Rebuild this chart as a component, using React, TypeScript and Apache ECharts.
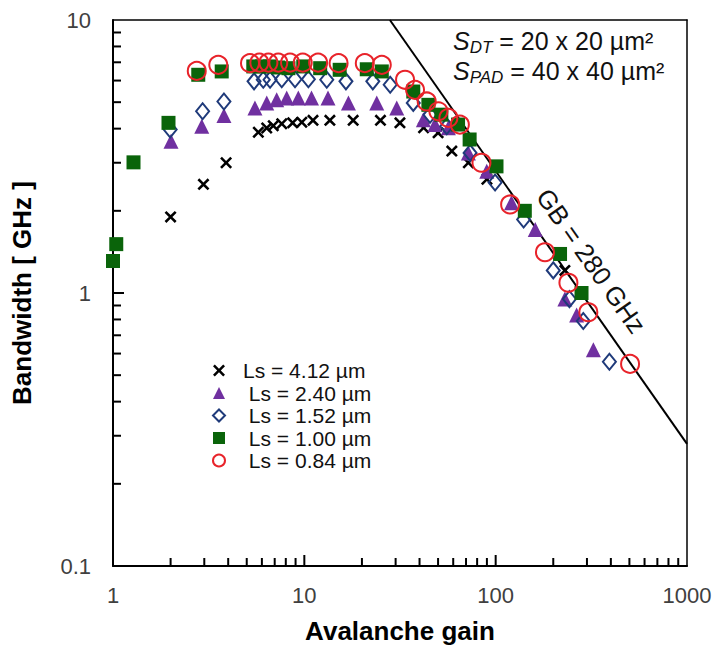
import React, { useEffect, useRef } from "react";
import * as echarts from "echarts";

const FONT = "'Liberation Sans', Arial, sans-serif";

// Ls = 4.12 µm
const gainA = [2.0, 2.97, 3.9, 5.75, 6.36, 6.88, 7.62, 8.69, 9.7, 11.1, 13.6, 18.0, 25.0, 31.6, 42, 50, 59, 72, 90, 230];
const bwA = [1.9, 2.5, 3.0, 3.88, 4.02, 4.1, 4.17, 4.2, 4.22, 4.29, 4.29, 4.29, 4.29, 4.2, 4.03, 3.86, 3.31, 3.0, 2.61, 1.21];
// Ls = 2.40 µm
const gainB = [2.01, 2.91, 3.8, 5.52, 6.36, 7.17, 8.09, 9.3, 10.9, 13.3, 17, 23.9, 30.4, 41.9, 48.2, 56.6, 72, 89.8, 121, 161, 230, 265, 324];
const bwB = [3.6, 4.08, 4.47, 4.76, 4.97, 5.1, 5.18, 5.18, 5.18, 5.18, 4.97, 4.97, 4.76, 4.31, 4.14, 4.03, 3.26, 2.79, 2.14, 1.71, 0.95, 0.83, 0.62];
// Ls = 1.52 µm
const gainC = [1.99, 2.94, 3.8, 5.46, 6.1, 6.62, 7.62, 8.94, 10.5, 13.1, 16.5, 22.8, 28.1, 37.1, 45.4, 55.5, 73.5, 99.3, 140, 200, 243, 287, 393];
const bwC = [3.97, 4.63, 5.03, 5.96, 6.04, 6.04, 6.07, 6.07, 6.07, 6.04, 5.96, 5.96, 5.79, 4.97, 4.5, 4.08, 3.26, 2.54, 1.86, 1.21, 0.95, 0.79, 0.56];
// Ls = 1.00 µm
const gainD = [1.0, 1.04, 1.28, 1.95, 2.79, 3.7, 5.41, 6.0, 6.6, 7.3, 8.26, 9.87, 12.1, 15.3, 21.2, 25.4, 37.1, 44.5, 52, 63.6, 73.1, 101, 142, 217, 281];
const bwD = [1.31, 1.51, 3.01, 4.2, 6.3, 6.48, 6.76, 6.76, 6.76, 6.7, 6.66, 6.76, 6.66, 6.57, 6.6, 6.48, 5.47, 4.89, 4.5, 4.14, 3.65, 2.91, 2.0, 1.39, 1.0];
// Ls = 0.84 µm
const gainE = [2.74, 3.55, 5.2, 5.82, 6.49, 7.31, 8.42, 9.81, 11.8, 15.1, 20.7, 25.4, 33.6, 37.9, 43.6, 50.2, 56.6, 65, 84.3, 119, 181, 240, 305, 504];
const bwE = [6.51, 6.85, 6.95, 6.98, 6.98, 6.98, 6.98, 6.98, 6.98, 6.95, 6.95, 6.85, 6.04, 5.55, 5.03, 4.63, 4.38, 4.14, 3.0, 2.11, 1.41, 1.09, 0.85, 0.55];

// GB = 280 GHz line end points
const gbLine = [
  [28, 10],
  [1000, 0.28],
];

const seriesNames = ["Ls = 4.12 µm", "\u00a0Ls = 2.40 µm", "\u00a0Ls = 1.52 µm", "\u00a0Ls = 1.00 µm", "\u00a0Ls = 0.84 µm"];

const xMajorTicks = [10, 100];
const yMajorTicks = [1];
const xMinorTicks = [2, 3, 4, 5, 6, 7, 8, 9, 20, 30, 40, 50, 60, 70, 80, 90, 200, 300, 400, 500, 600, 700, 800, 900];
const yMinorTicks = [0.2, 0.3, 0.4, 0.5, 0.6, 0.7, 0.8, 0.9, 2, 3, 4, 5, 6, 7, 8, 9];

const crossPath =
  "path://M1.5,0 L5,3.5 L8.5,0 L10,1.5 L6.5,5 L10,8.5 L8.5,10 L5,6.5 L1.5,10 L0,8.5 L3.5,5 L0,1.5 Z";

const zip = (xs: number[], ys: number[]) => xs.map((x, i) => [x, ys[i]]);

export default function App() {
  const ref = useRef<HTMLDivElement>(null);
  useEffect(() => {
    if (!ref.current) return;
    const chart = echarts.init(ref.current, null, { renderer: "svg" });
    const axisLabel = {
      fontSize: 22,
      color: "#404040",
      fontFamily: FONT,
      formatter: (v: number) => String(v),
    };
    const frameAxis = (extra: any) => ({
      type: "log",
      logBase: 10,
      axisLine: { show: true, onZero: false, lineStyle: { color: "#000", width: 1.5 } },
      axisTick: { show: false },
      axisLabel: { show: false },
      splitLine: { show: false },
      minorTick: { show: false },
      ...extra,
    });
    const option: any = {
      animation: false,
      backgroundColor: "#fff",
      grid: {
        left: 113,
        right: 28,
        top: 20,
        bottom: 84,
      },
      xAxis: [
        {
          type: "log",
          logBase: 10,
          min: 1,
          max: 1000,
          position: "bottom",
          axisLine: { lineStyle: { color: "#000", width: 2 } },
          axisTick: { show: false },
          axisLabel: { ...axisLabel, margin: 18 },
          splitLine: { show: false },
          minorTick: { show: false },
          name: "Avalanche gain",
          nameLocation: "middle",
          nameGap: 52,
          nameTextStyle: { fontSize: 26, fontWeight: "bold", color: "#000", fontFamily: FONT },
        },
        frameAxis({ min: 1, max: 1000, position: "top" }),
      ],
      yAxis: [
        {
          type: "log",
          logBase: 10,
          min: 0.1,
          max: 10,
          position: "left",
          axisLine: { show: true, lineStyle: { color: "#000", width: 2 } },
          axisTick: { show: false },
          axisLabel: { ...axisLabel, margin: 22 },
          splitLine: { show: false },
          minorTick: { show: false },
          name: "Bandwidth [ GHz ]",
          nameLocation: "middle",
          nameGap: 78,
          nameTextStyle: { fontSize: 26, fontWeight: "bold", color: "#000", fontFamily: FONT },
        },
        frameAxis({ min: 0.1, max: 10, position: "right" }),
      ],
      legend: {
        orient: "vertical",
        left: 207,
        top: 355,
        itemWidth: 12,
        itemHeight: 12,
        itemGap: 1.5,
        textStyle: { fontSize: 21, color: "#111", fontFamily: FONT, padding: [0, 0, 0, 13] },
        data: seriesNames,
      },
      series: [
        {
          name: "GB",
          type: "line",
          data: gbLine,
          symbol: "none",
          silent: true,
          lineStyle: { color: "#000", width: 2 },
          z: 1,
        },
        {
          name: seriesNames[0],
          type: "scatter",
          data: zip(gainA, bwA),
          symbol: crossPath,
          symbolSize: 12,
          itemStyle: { color: "#000", opacity: 1 },
          z: 2,
        },
        {
          name: seriesNames[1],
          type: "scatter",
          data: zip(gainB, bwB),
          symbol: "triangle",
          symbolSize: 15,
          itemStyle: { color: "#7030a0", opacity: 1 },
          z: 3,
        },
        {
          name: seriesNames[2],
          type: "scatter",
          data: zip(gainC, bwC),
          symbol: "diamond",
          symbolSize: [13, 16],
          itemStyle: { color: "rgba(255,255,255,0)", borderColor: "#1f3a7a", borderWidth: 2, opacity: 1 },
          z: 4,
        },
        {
          name: seriesNames[3],
          type: "scatter",
          data: zip(gainD, bwD),
          symbol: "rect",
          symbolSize: 14,
          itemStyle: { color: "#0a640a", opacity: 1 },
          z: 5,
        },
        {
          name: seriesNames[4],
          type: "scatter",
          data: zip(gainE, bwE),
          symbol: "circle",
          symbolSize: 18,
          itemStyle: { color: "rgba(255,255,255,0)", borderColor: "#e8232a", borderWidth: 2, opacity: 1 },
          z: 6,
        },
      ],
    };
    chart.setOption(option);

    const texts: any[] = [
      {
        type: "text",
        x: 453,
        y: 26,
        z: 100,
        style: {
          text: "{s|S}{sub|DT}{n| = 20 x 20 µm²}\n{s|S}{sub|PAD}{n| = 40 x 40 µm²}",
          fill: "#111",
          fontFamily: FONT,
          rich: {
            s: { fontSize: 25, fontStyle: "italic", lineHeight: 30, fontFamily: FONT, fill: "#111" },
            sub: { fontSize: 17, fontStyle: "italic", padding: [13, 0, 0, 0], fontFamily: FONT, fill: "#111" },
            n: { fontSize: 25, lineHeight: 30, fontFamily: FONT, fill: "#111" },
          },
        },
      },
      {
        type: "text",
        x: 591,
        y: 261,
        rotation: (-55 * Math.PI) / 180,
        z: 100,
        style: {
          text: "GB = 280 GHz",
          fontSize: 26,
          fill: "#111",
          fontFamily: FONT,
          align: "center",
          verticalAlign: "middle",
        },
      },
    ];
    const tickStyle = { stroke: "#000", lineWidth: 2 };
    const ticks: any[] = [];
    const addX = (v: number, len: number) => {
      const p = chart.convertToPixel({ xAxisIndex: 0, yAxisIndex: 0 }, [v, 0.1]) as number[];
      if (p) ticks.push({ type: "line", z: 50, silent: true, shape: { x1: p[0], y1: p[1], x2: p[0], y2: p[1] - len }, style: tickStyle });
    };
    const addY = (v: number, len: number) => {
      const p = chart.convertToPixel({ xAxisIndex: 0, yAxisIndex: 0 }, [1, v]) as number[];
      if (p) ticks.push({ type: "line", z: 50, silent: true, shape: { x1: p[0], y1: p[1], x2: p[0] + len, y2: p[1] }, style: tickStyle });
    };
    xMajorTicks.forEach((v) => addX(v, 11));
    xMinorTicks.forEach((v) => addX(v, 8));
    yMajorTicks.forEach((v) => addY(v, 11));
    yMinorTicks.forEach((v) => addY(v, 8));
    chart.setOption({ graphic: [...texts, ...ticks] });

    return () => chart.dispose();
  }, []);
  return <div ref={ref} style={{ position: "absolute", left: 0, top: 0, width: 715, height: 650 }} />;
}
